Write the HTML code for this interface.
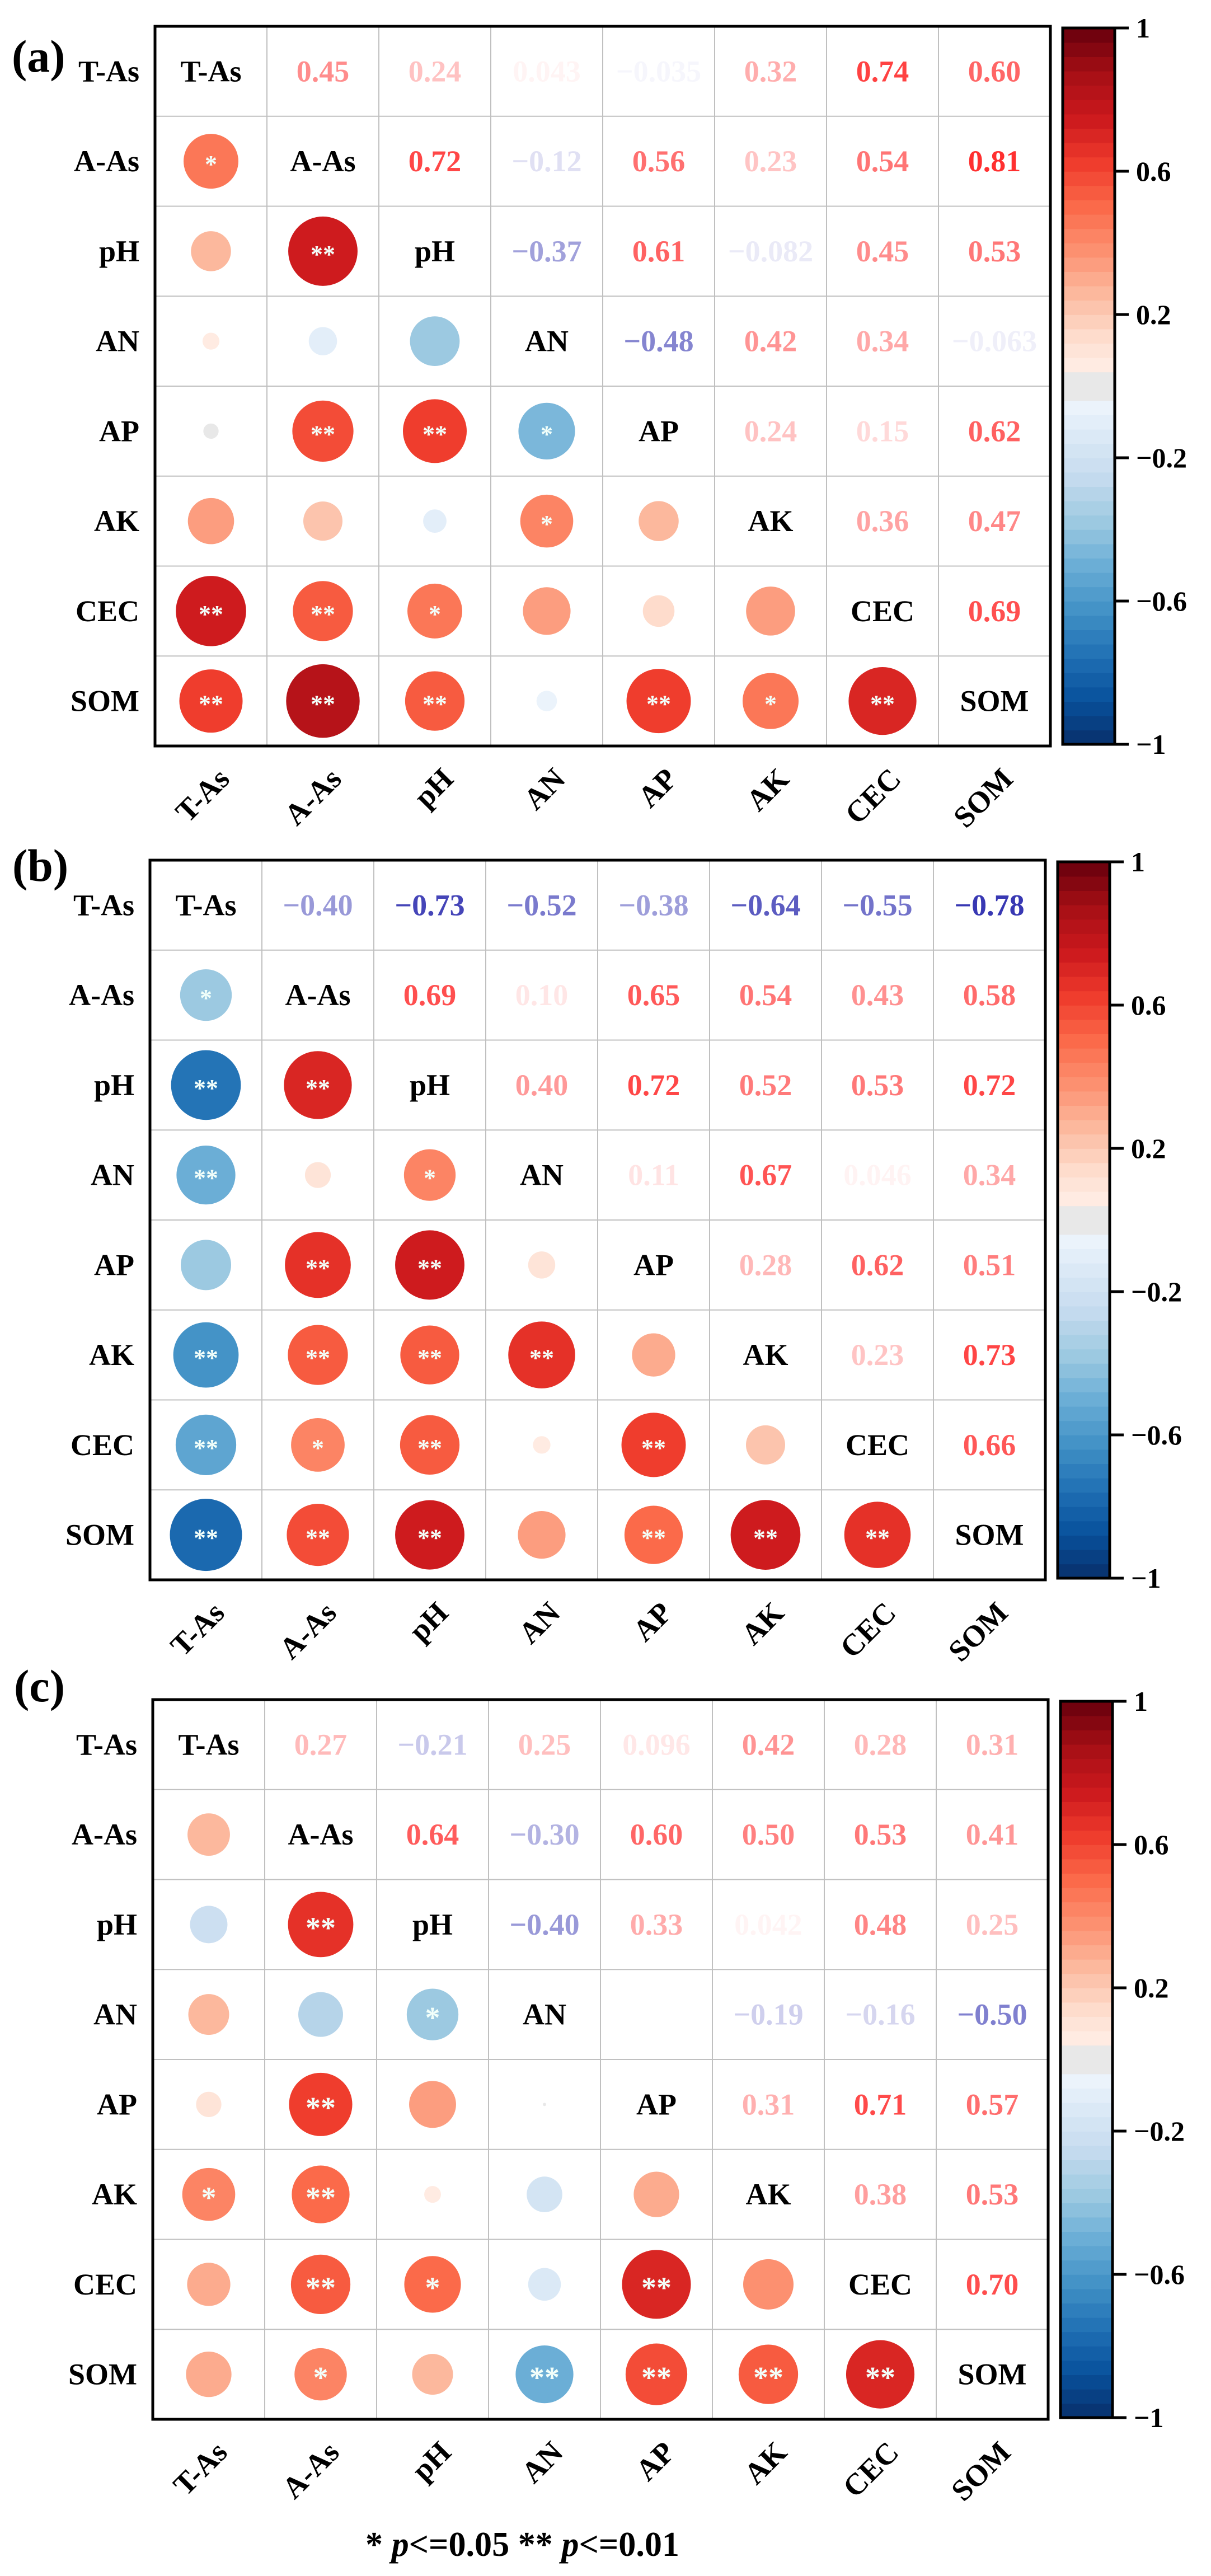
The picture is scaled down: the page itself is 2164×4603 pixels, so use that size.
<!DOCTYPE html>
<html><head><meta charset="utf-8">
<style>
html,body{margin:0;padding:0;background:#fff;}
svg{display:block;}
text{font-family:"Liberation Serif","Times New Roman",serif;font-weight:bold;}
</style></head>
<body>
<svg id="fig" xmlns="http://www.w3.org/2000/svg" width="2164" height="4603" viewBox="0 0 2164 4603">
<text x="653" y="4567" font-size="62" font-family="Liberation Serif, serif" textLength="561" lengthAdjust="spacingAndGlyphs">* <tspan font-style="italic">p</tspan>&lt;=0.05  ** <tspan font-style="italic">p</tspan>&lt;=0.01</text>
</svg>
<script>
const vars = ["T-As","A-As","pH","AN","AP","AK","CEC","SOM"];
const corrA = [0.45,0.24,0.043,-0.035,0.32,0.74,0.60, 0.72,-0.12,0.56,0.23,0.54,0.81, -0.37,0.61,-0.082,0.45,0.53, -0.48,0.42,0.34,-0.063, 0.24,0.15,0.62, 0.36,0.47, 0.69];
const labelsA = ["0.45","0.24","0.043","\u22120.035","0.32","0.74","0.60","0.72","\u22120.12","0.56","0.23","0.54","0.81","\u22120.37","0.61","\u22120.082","0.45","0.53","\u22120.48","0.42","0.34","\u22120.063","0.24","0.15","0.62","0.36","0.47","0.69"];
const starsA = ["*", "","**", "","","", "","**","**","*", "","","","*","", "**","**","*","","","", "**","**","**","","**","*","**"];
const corrB = [-0.40,-0.73,-0.52,-0.38,-0.64,-0.55,-0.78, 0.69,0.10,0.65,0.54,0.43,0.58, 0.40,0.72,0.52,0.53,0.72, 0.11,0.67,0.046,0.34, 0.28,0.62,0.51, 0.23,0.73, 0.66];
const labelsB = ["\u22120.40","\u22120.73","\u22120.52","\u22120.38","\u22120.64","\u22120.55","\u22120.78","0.69","0.10","0.65","0.54","0.43","0.58","0.40","0.72","0.52","0.53","0.72","0.11","0.67","0.046","0.34","0.28","0.62","0.51","0.23","0.73","0.66"];
const starsB = ["*", "**","**", "**","","*", "","**","**","", "**","**","**","**","", "**","*","**","","**","", "**","**","**","","**","**","**"];
const corrC = [0.27,-0.21,0.25,0.096,0.42,0.28,0.31, 0.64,-0.30,0.60,0.50,0.53,0.41, -0.40,0.33,0.042,0.48,0.25, -0.0016,-0.19,-0.16,-0.50, 0.31,0.71,0.57, 0.38,0.53, 0.70];
const labelsC = ["0.27","\u22120.21","0.25","0.096","0.42","0.28","0.31","0.64","\u22120.30","0.60","0.50","0.53","0.41","\u22120.40","0.33","0.042","0.48","0.25","\u22120.0016","\u22120.19","\u22120.16","\u22120.50","0.31","0.71","0.57","0.38","0.53","0.70"];
const starsC = ["", "","**", "","","*", "","**","","", "*","**","","","", "","**","*","","**","", "","*","","**","**","**","**"];
const cbTicks = [1,0.6,0.2,-0.2,-0.6,-1];
const cbTickLabels = ["1","0.6","0.2","\u22120.2","\u22120.6","\u22121"];

const NS = "http://www.w3.org/2000/svg";
const svg = document.getElementById("fig");
function mk(tag, attrs, parent){const e=document.createElementNS(NS,tag);for(const k in attrs)e.setAttribute(k,attrs[k]);if(tag==="text"&&!attrs["font-family"])e.setAttribute("font-family","Liberation Serif, Times New Roman, serif");(parent||svg).appendChild(e);return e;}

const reds=[[255,245,240],[254,224,210],[252,187,161],[252,146,114],[251,106,74],[239,59,44],[203,24,29],[165,15,21],[103,0,13]];
const blues=[[247,251,255],[222,235,247],[198,219,239],[158,202,225],[107,174,214],[66,146,198],[33,113,181],[8,81,156],[8,48,107]];
function interp(st,t){t=Math.max(0,Math.min(1,t));const p=t*(st.length-1);const i=Math.min(Math.floor(p),st.length-2);const f=p-i;const a=st[i],b=st[i+1];return a.map((v,k)=>Math.round(v+(b[k]-v)*f));}
function cmap(r){const q=(Math.floor((r+1)/0.04)+0.5)*0.04-1;const v=Math.max(-1,Math.min(1,q));if(Math.abs(v)<0.03)return "rgb(232,232,232)";const c=v>=0?interp(reds,v):interp(blues,-v);return `rgb(${c[0]},${c[1]},${c[2]})`;}
function tcolor(r){if(r>=0){const g=Math.round(255*(1-r));return `rgb(255,${g},${g})`;}const a=-r;return `rgb(${Math.round(255*(1-a))},${Math.round(255*(1-a))},${Math.round(255-a*97)})`;}

const panels=[
 {id:"a",left:277,top:47,corr:corrA,labels:labelsA,stars:starsA,lx:21,ly:128,starFont:'Liberation Serif, serif',starSize:44,starW:"normal"},
 {id:"b",left:268,top:1537,corr:corrB,labels:labelsB,stars:starsB,lx:22,ly:1574,starFont:'Liberation Serif, serif',starSize:44,starW:"normal"},
 {id:"c",left:273,top:3037,corr:corrC,labels:labelsC,stars:starsC,lx:25,ly:3040,starFont:'DejaVu Sans, sans-serif',starSize:54,starW:"bold"}
];
const CW=200, H=1286, RH=H/8, W=1600;

panels.forEach(p=>{
 const g=mk("g",{});
 
 
 const M=[];for(let i=0;i<8;i++)M.push(new Array(8).fill(0));
 const L=[];for(let i=0;i<8;i++)L.push(new Array(8).fill(""));
 let k=0;for(let i=0;i<8;i++)for(let j=i+1;j<8;j++){M[i][j]=M[j][i]=p.corr[k];L[i][j]=p.labels[k];k++;}
 const S=[];k=0;for(let i=0;i<8;i++){S.push([]);for(let j=0;j<i;j++){S[i].push(p.stars[k++]);}}
 const xC=j=>p.left+CW*j+CW/2, yC=i=>p.top+RH*i+RH/2;
 for(let j=1;j<8;j++){const l=mk("line",{x1:p.left+CW*j,x2:p.left+CW*j,y1:p.top,y2:p.top+H,stroke:"#c0c0c0","stroke-width":2},g);}
 for(let i=1;i<8;i++){const l=mk("line",{x1:p.left,x2:p.left+W,y1:p.top+RH*i,y2:p.top+RH*i,stroke:"#c0c0c0","stroke-width":2},g);}
 for(let i=0;i<8;i++)for(let j=0;j<8;j++){
  if(i===j){const t=mk("text",{x:xC(j),y:yC(i)+18,"text-anchor":"middle","font-size":54,fill:"#000"},g);t.textContent=vars[i];}
  else if(j>i){const t=mk("text",{x:xC(j),y:yC(i)+18,"text-anchor":"middle","font-size":54,fill:tcolor(M[i][j])},g);t.textContent=L[i][j];}
  else{const r=73*Math.sqrt(Math.abs(M[i][j]));const c=mk("circle",{cx:xC(j),cy:yC(i),r:r,fill:cmap(M[i][j])},g);
   const s=S[i][j];if(s){const t=mk("text",{x:xC(j),y:yC(i)+(p.id==="c"?24:20),"text-anchor":"middle","font-size":p.starSize,"font-family":p.starFont,"font-weight":p.starW,fill:"#f2fffa"},g);t.textContent=s;}}
 }
 const b=mk("rect",{x:p.left,y:p.top,width:W,height:H,fill:"none",stroke:"#000","stroke-width":5},g);
 
 for(let i=0;i<8;i++){const t=mk("text",{x:p.left-28,y:yC(i)+18,"text-anchor":"end","font-size":54},g);t.textContent=vars[i];}
 for(let j=0;j<8;j++){const ax=xC(j)+36, ay=p.top+H+62;const t=mk("text",{x:ax,y:ay,"text-anchor":"end","font-size":54,transform:`rotate(-45 ${ax} ${ay})`},g);t.textContent=vars[j];}
 const pl=mk("text",{x:p.lx,y:p.ly,"font-size":82},g);pl.textContent="("+p.id+")";
 const cx=p.left+W+22, cw=93, ctop=p.top+3, cbot=p.top+H-3;
 const yV=v=>ctop+(1-v)/2*(cbot-ctop);
 for(let n=0;n<50;n++){const v0=-1+n*0.04;const r=mk("rect",{x:cx,y:yV(v0+0.04),width:cw,height:yV(v0)-yV(v0+0.04)+0.8,fill:cmap(v0+0.02)},g);}
 const cf=mk("rect",{x:cx,y:ctop,width:cw,height:cbot-ctop,fill:"none",stroke:"#000","stroke-width":5},g);
 cbTicks.forEach((v,n)=>{const y=yV(v);const l=mk("line",{x1:cx+cw,x2:cx+cw+25,y1:y,y2:y,stroke:"#000","stroke-width":5},g);
  const t=mk("text",{x:cx+cw+38,y:y+17,"font-size":50},g);t.textContent=cbTickLabels[n];});
});
</script>
</body></html>
